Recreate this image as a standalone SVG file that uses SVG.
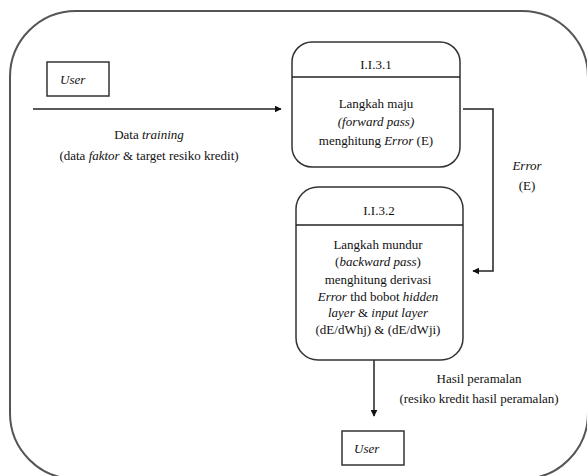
<svg xmlns="http://www.w3.org/2000/svg" width="587" height="476" viewBox="0 0 587 476" font-family="Liberation Serif, DejaVu Serif, serif">
  <defs>
    <style>
      text { font-size: 13px; fill: #111; }
      .c { text-anchor: middle; }
      .i { font-style: italic; }
      .frame { fill: none; stroke: #555; stroke-width: 2; }
      .box { fill: #fff; stroke: #333; stroke-width: 1.5; }
      .line { fill: none; stroke: #222; stroke-width: 1.5; }
    </style>
    <marker id="arrow" viewBox="0 0 10 10" refX="9" refY="5" markerWidth="7" markerHeight="7" markerUnits="userSpaceOnUse" orient="auto">
      <path d="M0,0 L10,5 L0,10 z" fill="#111"/>
    </marker>
  </defs>

  <rect width="587" height="476" fill="#fff"/>

  <!-- outer boundary -->
  <rect class="frame" x="10" y="11" width="578" height="468" rx="66" ry="66"/>

  <!-- connectors -->
  <g id="connectors">
    <line class="line" x1="33" y1="109" x2="281" y2="109" marker-end="url(#arrow)"/>
    <polyline class="line" points="463,109 493,109 493,271 473,271" marker-end="url(#arrow)"/>
    <line class="line" x1="374" y1="360" x2="374" y2="416" marker-end="url(#arrow)"/>
    <text class="c" x="149" y="139">Data <tspan class="i">training</tspan></text>
    <text class="c" x="149" y="160">(data <tspan class="i">faktor</tspan> &amp; target resiko kredit)</text>
    <text class="c i" x="527" y="170">Error</text>
    <text class="c" x="527" y="190">(E)</text>
    <text class="c" x="479" y="383">Hasil peramalan</text>
    <text class="c" x="479" y="403">(resiko kredit hasil peramalan)</text>
  </g>

  <!-- external entity: user (source) -->
  <g id="user-source">
    <rect class="box" x="47" y="62" width="62" height="34"/>
    <text class="i" x="60" y="84">User</text>
  </g>

  <!-- process I.I.3.1 -->
  <g id="process-1">
    <rect class="box" x="292" y="42" width="168" height="125" rx="20" ry="20"/>
    <line class="line" x1="292" y1="77" x2="460" y2="77"/>
    <text class="c" x="376" y="69">I.I.3.1</text>
    <text class="c" x="376" y="108">Langkah maju</text>
    <text class="c i" x="376" y="126">(forward pass)</text>
    <text class="c" x="376" y="145">menghitung <tspan class="i">Error</tspan> (E)</text>
  </g>

  <!-- process I.I.3.2 -->
  <g id="process-2">
    <rect class="box" x="296" y="187" width="167" height="173" rx="22" ry="22"/>
    <line class="line" x1="296" y1="225" x2="463" y2="225"/>
    <text class="c" x="379" y="215">I.I.3.2</text>
    <text class="c" x="378" y="249">Langkah mundur</text>
    <text class="c" x="378" y="266">(<tspan class="i">backward pass</tspan>)</text>
    <text class="c" x="378" y="284">menghitung derivasi</text>
    <text class="c" x="378" y="301"><tspan class="i">Error</tspan> thd bobot <tspan class="i">hidden</tspan></text>
    <text class="c i" x="378" y="317">layer <tspan font-style="normal">&amp;</tspan> input layer</text>
    <text class="c" x="378" y="334">(dE/dWhj) &amp; (dE/dWji)</text>
  </g>

  <!-- external entity: user (sink) -->
  <g id="user-sink">
    <rect class="box" x="342" y="431" width="62" height="34"/>
    <text class="i" x="354" y="453">User</text>
  </g>
</svg>
